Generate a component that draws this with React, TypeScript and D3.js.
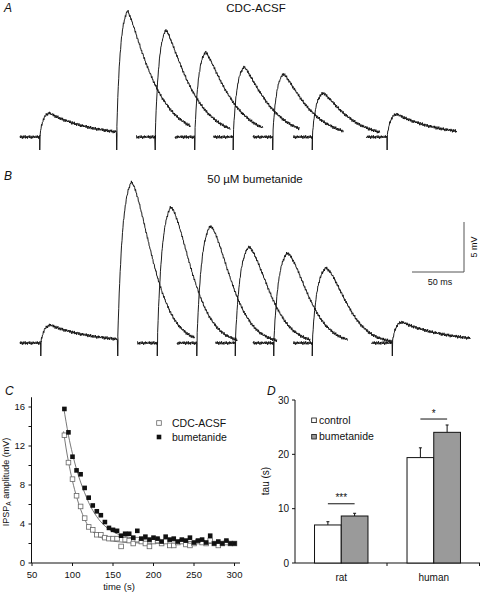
import React from 'react';
import * as d3 from 'd3';

// ---------------- Panels A & B : overlaid paired-pulse sweeps (time ms, amplitude mV)
const NOISE = [0.4, -0.6, 0.9, -0.3, 0.5, -1.0, 0.2, 0.8, -0.7, 0.3, -0.2, 1.0, -0.8, 0.1, -0.5, 0.6,
  -0.9, 0.4, 0.7, -0.1, -0.6, 0.9, -0.4, 0.2, -1.0, 0.5, 0.3, -0.7, 0.8, -0.2, 0.6, -0.5, 0.1, -0.3, 0.7];

const A_COND_STIM = 19;
const A_COND_PEAK = 2.4;
const A_SWEEP_START = [0, 112, 149, 186, 224, 263, 333];
const A_SWEEP_STIM = [93, 130, 168, 205, 243, 281, 353];
const A_SWEEP_END = [164, 202, 234, 269, 311, 346, 420];
const A_SWEEP_PEAK = [12.2, 10.7, 8.5, 7.0, 6.3, 4.4, 2.3];
const A_SWEEP_DECAY = [29, 29, 29, 29, 29, 29, 42];

const B_COND_STIM = 20;
const B_COND_PEAK = 1.8;
const B_SWEEP_START = [0, 113, 151, 188, 224, 263, 338];
const B_SWEEP_STIM = [94, 132, 170, 207, 244, 281, 358];
const B_SWEEP_END = [168, 209, 247, 279, 315, 358, 433];
const B_SWEEP_PEAK = [15.8, 13.6, 11.7, 9.6, 9.0, 7.5, 2.1];
const B_SWEEP_DECAY = [27, 27, 27, 27, 27, 27, 45];

// ---------------- Panel C
const C_TIME = [90, 95, 100, 105, 110, 115, 120, 125, 130, 135, 140, 145, 150, 155, 160, 165, 170, 175, 180, 185,
  190, 195, 200, 205, 210, 215, 220, 225, 230, 235, 240, 245, 250, 255, 260, 265, 270, 275, 280, 285, 290, 295, 300];
const C_CDC = [13.1, 10.3, 8.6, 6.9, 5.8, 4.6, 3.7, 3.4, 2.9, 2.9, 2.6, 2.5, 2.5, 2.5, 1.7, 2.4, 2.3, 2.0, 2.4, 2.2,
  2.0, 1.7, 2.2, 2.3, 2.0, 2.2, 1.8, 1.8, 2.1, 2.2, 1.9, 1.8, 2.0, 2.2, 2.1, 2.0, 2.3, 2.0, 1.8, 2.0, 2.1, 2.0, 2.0];
const C_BUM = [15.8, 13.4, 10.9, 9.5, 9.1, 7.7, 6.7, 5.9, 5.3, 4.9, 4.2, 3.6, 3.4, 3.3, 2.8, 3.0, 3.0, 2.6, 3.3, 2.5,
  2.7, 2.4, 2.6, 2.5, 2.2, 2.7, 2.4, 2.5, 2.2, 2.4, 2.3, 2.6, 2.1, 2.3, 2.4, 2.1, 2.8, 2.0, 2.2, 2.0, 2.3, 2.0, 2.0];
const C_FIT_TIME = [89, 92, 95, 100, 105, 110, 115, 120, 125, 130, 140, 150, 160, 175, 200, 250, 300];
const C_FIT_CDC = [13.5, 11.8, 10.4, 8.4, 6.8, 5.5, 4.5, 3.7, 3.2, 2.85, 2.45, 2.25, 2.15, 2.08, 2.03, 2.0, 2.0];
const C_FIT_BUM = [16.0, 14.5, 13.1, 11.2, 9.6, 8.3, 7.2, 6.2, 5.4, 4.75, 3.8, 3.2, 2.85, 2.55, 2.35, 2.2, 2.1];
const C_XTICKS = [50, 100, 150, 200, 250, 300];
const C_YTICKS = [0, 2, 4, 6, 8, 10, 12, 14, 16];
const C_YLABELS = [0, 4, 8, 12, 16];

// ---------------- Panel D
const D_GROUPS = ['rat', 'human'];
const D_SERIES = ['control', 'bumetanide'];
const D_MEAN_CONTROL = [7.0, 19.4];
const D_MEAN_BUM = [8.65, 24.05];
const D_ERR_CONTROL = [0.6, 1.8];
const D_ERR_BUM = [0.5, 1.35];
const D_SIG = ['***', '*'];
const D_SIG_Y = [10.9, 26.5];
const D_YTICKS = [0, 10, 20, 30];

const FONT = 'Liberation Sans, Arial, Helvetica, sans-serif';
const INK = '#111';
const GREY = '#9a9a9a';

function psp(dt: number, amp: number, tp: number, tr: number, td: number, p: number) {
  if (dt < 0) return 0;
  if (dt <= tp) return (amp * (1 - Math.exp(-dt / tr))) / (1 - Math.exp(-tp / tr));
  return amp * Math.exp(-Math.pow((dt - tp) / td, p));
}

type PanelCfg = {
  condStim: number; condPeak: number; start: number[]; stim: number[]; end: number[];
  peak: number[]; decay: number[]; tp: number; tr: number; pw: number;
};

function sweeps(cfg: PanelCfg, xT: d3.ScaleLinear<number, number>, yS: d3.ScaleLinear<number, number>) {
  const line = d3.line<[number, number]>().x(d => xT(d[0])).y(d => yS(d[1]));
  return cfg.start.map((s, i) => {
    const pts: [number, number][] = [];
    const stims = i === 0 ? [cfg.condStim, cfg.stim[i]] : [cfg.stim[i]];
    const small = i === cfg.start.length - 1;
    let k = 0;
    let nextStim = 0;
    for (let t = s; t <= cfg.end[i]; t += 0.45, k++) {
      while (nextStim < stims.length && t >= stims[nextStim]) {
        const st = stims[nextStim];
        pts.push([st, -1.3]);
        pts.push([st + 0.3, 0.2]);
        nextStim++;
      }
      let v = 0;
      if (i === 0) v += psp(t - cfg.condStim, cfg.condPeak, 9, 3, 42, 1.0);
      if (small) v += psp(t - cfg.stim[i], cfg.peak[i], 9, 3, cfg.decay[i], 1.0);
      else v += psp(t - cfg.stim[i], cfg.peak[i], cfg.tp, cfg.tr, cfg.decay[i], cfg.pw);
      v += NOISE[(k + i * 11) % NOISE.length] * 0.17;
      pts.push([t, v]);
    }
    return <path key={i} d={line(pts) || ''} fill="none" stroke={INK} strokeWidth={0.95} strokeLinejoin="round" />;
  });
}

export default function App() {
  // A / B scales
  const xT = d3.scaleLinear().domain([0, 50]).range([20, 72]);
  const yA = d3.scaleLinear().domain([0, 5]).range([137, 87]);
  const yB = d3.scaleLinear().domain([0, 5]).range([343, 293]);

  const cfgA: PanelCfg = {
    condStim: A_COND_STIM, condPeak: A_COND_PEAK, start: A_SWEEP_START, stim: A_SWEEP_STIM,
    end: A_SWEEP_END, peak: A_SWEEP_PEAK, decay: A_SWEEP_DECAY, tp: 10.5, tr: 3.5, pw: 1.25,
  };
  const cfgB: PanelCfg = {
    condStim: B_COND_STIM, condPeak: B_COND_PEAK, start: B_SWEEP_START, stim: B_SWEEP_STIM,
    end: B_SWEEP_END, peak: B_SWEEP_PEAK, decay: B_SWEEP_DECAY, tp: 13, tr: 4.5, pw: 1.55,
  };

  const barLen = xT(50) - xT(0);
  const barHt = yB(0) - yB(5);
  const sbX = 464;
  const sbY = 272;

  // C scales
  const xC = d3.scaleLinear().domain([50, 300]).range([32, 234.5]);
  const yC = d3.scaleLinear().domain([0, 16]).range([563, 407]);
  const fitLine = d3.line<number>().x((_, i) => xC(C_FIT_TIME[i])).y(d => yC(d)).curve(d3.curveMonotoneX);
  const sq = 4.6;

  // D scales
  const xD = d3.scaleBand<string>().domain(D_GROUPS).range([295, 480]).padding(0);
  const xSub = d3.scaleBand<string>().domain(D_SERIES).range([0, xD.bandwidth()]).paddingInner(0).paddingOuter(0.73);
  const yD = d3.scaleLinear().domain([0, 30]).range([563, 400]);
  const bw = xSub.bandwidth();

  const bars = D_GROUPS.flatMap((g, gi) =>
    D_SERIES.map((s, si) => {
      const mean = si === 0 ? D_MEAN_CONTROL[gi] : D_MEAN_BUM[gi];
      const err = si === 0 ? D_ERR_CONTROL[gi] : D_ERR_BUM[gi];
      const x = (xD(g) as number) + (xSub(s) as number);
      return { g, s, si, x, mean, err };
    })
  );

  return (
    <svg width={480} height={593} viewBox="0 0 480 593"
      style={{ position: 'absolute', left: 0, top: 0, background: '#fff' }} fontFamily={FONT}>
      <rect x={0} y={0} width={480} height={593} fill="#fff" />

      {/* ---------- Panel A */}
      <text x={4} y={12} fontSize={12} fontStyle="italic" fill={INK}>A</text>
      <text x={256} y={12} fontSize={11.5} textAnchor="middle" fill={INK}>CDC-ACSF</text>
      {sweeps(cfgA, xT, yA)}

      {/* ---------- Panel B */}
      <text x={4} y={180} fontSize={12} fontStyle="italic" fill={INK}>B</text>
      <text x={255} y={183} fontSize={11.5} textAnchor="middle" fill={INK}>50 µM bumetanide</text>
      {sweeps(cfgB, xT, yB)}

      {/* scale bar */}
      <path d={`M${sbX - barLen},${sbY}H${sbX}V${sbY - barHt}`} fill="none" stroke="#555" strokeWidth={1} />
      <text x={sbX - barLen / 2 + 2} y={sbY + 13} fontSize={9} textAnchor="middle" fill={INK}>50 ms</text>
      <text transform={`translate(${sbX + 13},${sbY - barHt / 2}) rotate(-90)`} fontSize={9} textAnchor="middle" fill={INK}>5 mV</text>

      {/* ---------- Panel C */}
      <text x={5} y={395} fontSize={12} fontStyle="italic" fill={INK}>C</text>
      <line x1={xC(50) - 0.5} x2={xC(50) - 0.5} y1={yC(0)} y2={yC(17)} stroke={INK} strokeWidth={1} />
      <line x1={xC(50) - 0.5} x2={240} y1={yC(0)} y2={yC(0)} stroke={INK} strokeWidth={1} />
      {C_YTICKS.map(v => (
        <line key={'cy' + v} x1={xC(50) - 3.5} x2={xC(50) - 0.5} y1={yC(v)} y2={yC(v)} stroke={INK} strokeWidth={1} />
      ))}
      {C_YLABELS.map(v => (
        <text key={'cyl' + v} x={25} y={yC(v) + 3.4} fontSize={9.5} textAnchor="end" fill={INK}>{v}</text>
      ))}
      {C_XTICKS.map(v => (
        <g key={'cx' + v}>
          <line x1={xC(v)} x2={xC(v)} y1={yC(0)} y2={yC(0) + 3} stroke={INK} strokeWidth={1} />
          <text x={xC(v)} y={yC(0) + 15} fontSize={9.5} textAnchor="middle" fill={INK}>{v}</text>
        </g>
      ))}
      <text x={119} y={590} fontSize={9.5} textAnchor="middle" fill={INK}>time (s)</text>
      <text transform="translate(9,482) rotate(-90)" fontSize={9} textAnchor="middle" fill={INK}>
        IPSP<tspan fontSize={6.5} dy={2}>A</tspan><tspan dy={-2}> amplitude (mV)</tspan>
      </text>

      <path d={fitLine(C_FIT_CDC) || ''} fill="none" stroke="#555" strokeWidth={0.8} />
      <path d={fitLine(C_FIT_BUM) || ''} fill="none" stroke="#555" strokeWidth={0.8} />
      {C_TIME.map((t, i) => (
        <rect key={'co' + i} x={xC(t) - sq / 2} y={yC(C_CDC[i]) - sq / 2} width={sq} height={sq}
          fill="#fff" stroke="#666" strokeWidth={0.8} />
      ))}
      {C_TIME.map((t, i) => (
        <rect key={'cb' + i} x={xC(t) - sq / 2} y={yC(C_BUM[i]) - sq / 2} width={sq} height={sq} fill="#111" />
      ))}
      {/* legend C */}
      <rect x={159 - sq / 2} y={423 - sq / 2} width={sq} height={sq} fill="#fff" stroke="#666" strokeWidth={0.8} />
      <text x={172} y={426.5} fontSize={10.5} fill={INK}>CDC-ACSF</text>
      <rect x={159 - sq / 2} y={437 - sq / 2} width={sq} height={sq} fill="#111" />
      <text x={172} y={440.5} fontSize={10.5} fill={INK}>bumetanide</text>

      {/* ---------- Panel D */}
      <text x={267} y={395} fontSize={12} fontStyle="italic" fill={INK}>D</text>
      <line x1={295} x2={295} y1={yD(0)} y2={yD(30)} stroke={INK} strokeWidth={1} />
      <line x1={295} x2={480} y1={yD(0)} y2={yD(0)} stroke={INK} strokeWidth={1} />
      {D_YTICKS.map(v => (
        <g key={'dy' + v}>
          <line x1={292} x2={295} y1={yD(v)} y2={yD(v)} stroke={INK} strokeWidth={1} />
          <text x={289} y={yD(v) + 3.5} fontSize={10} textAnchor="end" fill={INK}>{v}</text>
        </g>
      ))}
      {D_GROUPS.map(g => (
        <g key={'dx' + g}>
          <line x1={(xD(g) as number) + xD.bandwidth() - 0.5} x2={(xD(g) as number) + xD.bandwidth() - 0.5}
            y1={yD(0)} y2={yD(0) + 3} stroke={INK} strokeWidth={1} />
          <text x={(xD(g) as number) + xD.bandwidth() / 2} y={581} fontSize={10} textAnchor="middle" fill={INK}>{g}</text>
        </g>
      ))}
      <text transform="translate(269,481) rotate(-90)" fontSize={10} textAnchor="middle" fill={INK}>tau (s)</text>

      {bars.map((b, i) => (
        <g key={'bar' + i}>
          <line x1={b.x + bw / 2} x2={b.x + bw / 2} y1={yD(b.mean)} y2={yD(b.mean + b.err)} stroke={INK} strokeWidth={1} />
          <line x1={b.x + bw / 2 - 1.5} x2={b.x + bw / 2 + 1.5} y1={yD(b.mean + b.err)} y2={yD(b.mean + b.err)} stroke={INK} strokeWidth={1} />
          <rect x={b.x} y={yD(b.mean)} width={bw} height={yD(0) - yD(b.mean)}
            fill={b.si === 0 ? '#fff' : GREY} stroke={INK} strokeWidth={1} />
        </g>
      ))}
      {D_GROUPS.map((g, gi) => {
        const x1 = (xD(g) as number) + (xSub('control') as number) + bw / 2;
        const x2 = (xD(g) as number) + (xSub('bumetanide') as number) + bw / 2;
        return (
          <g key={'sig' + g}>
            <line x1={x1} x2={x2} y1={yD(D_SIG_Y[gi])} y2={yD(D_SIG_Y[gi])} stroke={INK} strokeWidth={1} />
            <text x={(x1 + x2) / 2} y={yD(D_SIG_Y[gi]) - 2.5} fontSize={10} textAnchor="middle" fill={INK}>{D_SIG[gi]}</text>
          </g>
        );
      })}
      {/* legend D */}
      <rect x={311.7} y={418} width={sq} height={sq} fill="#fff" stroke={INK} strokeWidth={0.8} />
      <text x={319} y={423.5} fontSize={10.5} fill={INK}>control</text>
      <rect x={311.7} y={434.4} width={sq} height={sq} fill={GREY} stroke={INK} strokeWidth={0.8} />
      <text x={319} y={440} fontSize={10.5} fill={INK}>bumetanide</text>
    </svg>
  );
}
